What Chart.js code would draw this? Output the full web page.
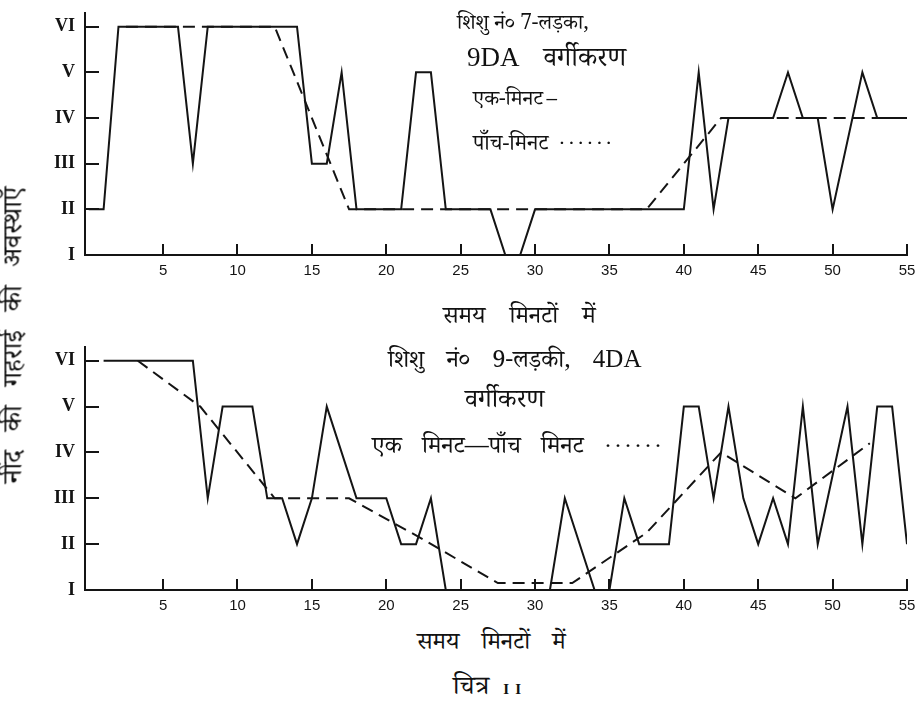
<!DOCTYPE html>
<html>
<head>
<meta charset="utf-8">
<script src="https://cdn.jsdelivr.net/npm/chart.js@4/dist/chart.umd.min.js"></script>
<style>
  html, body { margin: 0; padding: 0; background: #fff; }
  #page { position: relative; width: 915px; height: 706px; overflow: hidden; background: #fff; }
  canvas { position: absolute; left: 0; }
  .txt { position: absolute; white-space: nowrap; color: #111; transform: translateY(-50%);
         font-family: "Noto Serif Devanagari", "Noto Sans Devanagari", "Lohit Devanagari", "FreeSerif", serif;
         font-size: 24px; line-height: 1; }
  .lat { font-family: "Liberation Serif", "DejaVu Serif", serif; }
  .dots { letter-spacing: 2px; font-family: "Liberation Serif", serif; }
  #ytitle { position: absolute; left: 18px; top: 335px; white-space: nowrap; color: #111;
            transform: translate(-50%, -50%) rotate(-90deg);
            font-family: "Noto Serif Devanagari", "Noto Sans Devanagari", "Lohit Devanagari", "FreeSerif", serif;
            font-size: 27px; word-spacing: 12px; line-height: 1; }
</style>
</head>
<body>
<div id="page">
  <canvas id="top" width="915" height="285" style="top:0px"></canvas>
  <canvas id="bottom" width="915" height="290" style="top:330px"></canvas>

  <div id="ytitle">नींद की गहराई की अवस्थाएँ</div>

  <div class="txt" style="left:457px; top:25px; font-size:21px; word-spacing:0px">शिशु नं० 7-लड़का,</div>
  <div class="txt" style="left:467px; top:60px"><span class="lat" style="font-size:27px">9DA</span><span style="font-size:27px; margin-left:24px">वर्गीकरण</span></div>
  <div class="txt" style="left:473px; top:101px; font-size:21px; word-spacing:-2px">एक-मिनट –</div>
  <div class="txt" style="left:473px; top:145px; font-size:22px">पाँच-मिनट<span class="dots" style="margin-left:10px">······</span></div>

  <div class="txt" style="left:443px; top:320px; word-spacing:18px">समय मिनटों में</div>
  <div class="txt" style="left:388px; top:361px; word-spacing:16px">शिशु नं० 9-लड़की, <span class="lat" style="font-size:25px">4DA</span></div>
  <div class="txt" style="left:465px; top:403px; font-size:26px">वर्गीकरण</div>
  <div class="txt" style="left:372px; top:447px; word-spacing:14px">एक मिनट—पाँच मिनट <span class="dots">······</span></div>

  <div class="txt" style="left:417px; top:646px; word-spacing:16px">समय मिनटों में</div>
  <div class="txt" style="left:453px; top:690px"><span style="font-size:26px">चित्र</span><span class="lat" style="font-size:15px; font-weight:bold; letter-spacing:6px; margin-left:14px">II</span></div>
</div>

<script>
// Sleep-depth levels I..VI, stored as 1..6
const levelLabels = ['I', 'II', 'III', 'IV', 'V', 'VI'];
const levelTicks = [1, 2, 3, 4, 5, 6];
const minuteTicks = [5, 10, 15, 20, 25, 30, 35, 40, 45, 50, 55];

// Infant no. 7 (boy) — one-minute ratings (turning points)
const boyMinutes = [0, 1, 2, 6, 7, 8, 14, 15, 16, 17, 18, 21, 22, 23, 24, 27, 28, 29, 30, 40, 41, 42, 43, 46, 47, 48, 49, 50, 52, 53, 55];
const boyOneMin  = [2, 2, 6, 6, 3, 6, 6, 3, 3, 5, 2, 2, 5, 5, 2, 2, 1, 1, 2, 2, 5, 2, 4, 4, 5, 4, 4, 2, 5, 4, 4];
// Infant no. 7 — five-minute ratings
const boyFiveMinutes = [2.5, 7.5, 12.5, 17.5, 22.5, 27.5, 32.5, 37.5, 42.5, 47.5, 52.5, 55];
const boyFiveMin     = [6, 6, 6, 2, 2, 2, 2, 2, 4, 4, 4, 4];

// Infant no. 9 (girl) — one-minute ratings (turning points)
const girlMinutes = [1, 7, 8, 9, 11, 12, 13, 14, 15, 16, 18, 20, 21, 22, 23, 24, 31, 32, 34, 35, 36, 37, 39, 40, 41, 42, 43, 44, 45, 46, 47, 48, 49, 51, 52, 53, 54, 55];
const girlOneMin  = [6, 6, 3, 5, 5, 3, 3, 2, 3, 5, 3, 3, 2, 2, 3, 1, 1, 3, 1, 1, 3, 2, 2, 5, 5, 3, 5, 3, 2, 3, 2, 5, 2, 5, 2, 5, 5, 2];
// Infant no. 9 — five-minute ratings
const girlFiveMinutes = [3.3, 7.5, 12.5, 17.5, 22.5, 27.5, 32.5, 37.5, 42.5, 47.5, 52.5];
const girlFiveMin     = [6, 5, 3, 3, 2.1, 1.15, 1.15, 2.25, 4, 3, 4.2];

const INK = '#141414';

function pts(xs, ys) { return xs.map((x, i) => ({ x: x, y: ys[i] })); }

// Short tick marks pointing into the plot area
const inwardTicks = {
  id: 'inwardTicks',
  afterDraw(chart) {
    const { ctx, chartArea: a, scales } = chart;
    ctx.save();
    ctx.strokeStyle = INK;
    ctx.lineWidth = 2;
    ctx.beginPath();
    levelTicks.slice(1).forEach(v => {
      const y = Math.round(scales.y.getPixelForValue(v));
      ctx.moveTo(a.left, y); ctx.lineTo(a.left + 14, y);
    });
    minuteTicks.forEach(v => {
      const x = Math.round(scales.x.getPixelForValue(v));
      ctx.moveTo(x, a.bottom); ctx.lineTo(x, a.bottom - 11);
    });
    ctx.stroke();
    ctx.restore();
  }
};

function makeChart(id, oneX, oneY, fiveX, fiveY, padTop) {
  return new Chart(document.getElementById(id), {
    type: 'line',
    data: {
      datasets: [
        { label: 'एक-मिनट', data: pts(oneX, oneY), borderColor: INK, borderWidth: 2,
          pointRadius: 0, tension: 0, fill: false },
        { label: 'पाँच-मिनट', data: pts(fiveX, fiveY), borderColor: INK, borderWidth: 2,
          borderDash: [12, 7], pointRadius: 0, tension: 0, fill: false }
      ]
    },
    options: {
      responsive: false,
      animation: false,
      devicePixelRatio: 1,
      layout: { padding: { top: padTop, right: 8, left: 0, bottom: 0 } },
      plugins: { legend: { display: false }, tooltip: { enabled: false } },
      scales: {
        x: {
          type: 'linear', min: -0.25, max: 55,
          afterBuildTicks: s => { s.ticks = minuteTicks.map(v => ({ value: v })); },
          afterFit: s => { s.height = 30; s.paddingLeft = 0; s.paddingRight = 0; },
          grid: { display: true, drawOnChartArea: false, drawTicks: false },
          border: { display: true, color: INK, width: 2 },
          ticks: { color: INK, padding: 7, maxRotation: 0, autoSkip: false,
                   font: { family: 'Liberation Sans, DejaVu Sans, sans-serif', size: 15 } }
        },
        y: {
          type: 'linear', min: 1, max: 6.3,
          afterBuildTicks: s => { s.ticks = levelTicks.map(v => ({ value: v })); },
          afterFit: s => { s.width = 85; s.paddingTop = 0; s.paddingBottom = 0; },
          grid: { display: true, drawOnChartArea: false, drawTicks: false },
          border: { display: true, color: INK, width: 2 },
          ticks: { color: INK, padding: 10, autoSkip: false,
                   callback: v => levelLabels[v - 1],
                   font: { family: 'Liberation Serif, DejaVu Serif, serif', size: 18, weight: 'bold' } }
        }
      }
    },
    plugins: [inwardTicks]
  });
}

makeChart('top', boyMinutes, boyOneMin, boyFiveMinutes, boyFiveMin, 13);
makeChart('bottom', girlMinutes, girlOneMin, girlFiveMinutes, girlFiveMin, 17);
</script>
</body>
</html>
